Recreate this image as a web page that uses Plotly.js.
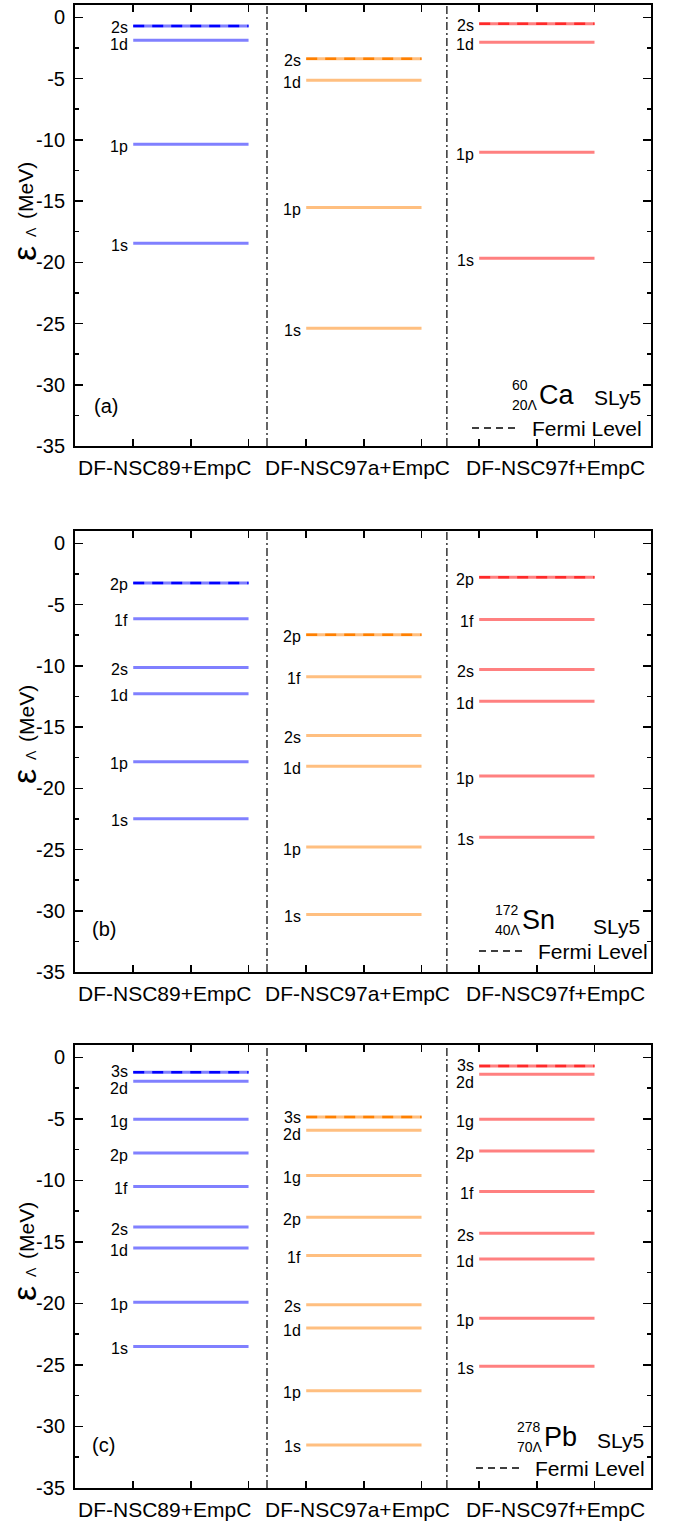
<!DOCTYPE html>
<html><head><meta charset="utf-8">
<script src="https://cdn.plot.ly/plotly-3.0.1.min.js"></script>
<style>body{margin:0;background:#fff}</style>
</head><body>
<div id="chart" style="width:674px;height:1525px"></div>
<script>
// ---------------- data ----------------
const categories = ['DF-NSC89+EmpC', 'DF-NSC97a+EmpC', 'DF-NSC97f+EmpC'];

// (a) 60/20Λ Ca
const caLevels  = ['2s', '1d', '1p', '1s'];
const caNSC89   = [-0.71, -1.88, -10.37, -18.45];
const caNSC97a  = [-3.38, -5.14, -15.54, -25.39];
const caNSC97f  = [-0.54, -2.04, -11.02, -19.68];

// (b) 172/40Λ Sn
const snLevels  = ['2p', '1f', '2s', '1d', '1p', '1s'];
const snNSC89   = [-3.24, -6.17, -10.14, -12.29, -17.84, -22.49];
const snNSC97a  = [-7.47, -10.9, -15.7, -18.2, -24.8, -30.3];
const snNSC97f  = [-2.77, -6.22, -10.3, -12.9, -19.0, -24.0];

// (c) 278/70Λ Pb
const pbLevels  = ['3s', '2d', '1g', '2p', '1f', '2s', '1d', '1p', '1s'];
const pbNSC89   = [-1.22, -1.95, -5.03, -7.78, -10.5, -13.8, -15.5, -19.9, -23.5];
const pbNSC97a  = [-4.86, -5.92, -9.6, -13.0, -16.1, -20.1, -22.0, -27.1, -31.5];
const pbNSC97f  = [-0.70, -1.38, -5.03, -7.62, -10.9, -14.3, -16.4, -21.2, -25.1];

const yTicks = [0, -5, -10, -15, -20, -25, -30, -35];
const yMinorTicks = [-2.5, -7.5, -12.5, -17.5, -22.5, -27.5, -32.5];

const panels = [
  {levels: caLevels, series: [caNSC89, caNSC97a, caNSC97f], tag: '(a)', A: '60',  ZL: '20Λ', el: 'Ca'},
  {levels: snLevels, series: [snNSC89, snNSC97a, snNSC97f], tag: '(b)', A: '172', ZL: '40Λ', el: 'Sn'},
  {levels: pbLevels, series: [pbNSC89, pbNSC97a, pbNSC97f], tag: '(c)', A: '278', ZL: '70Λ', el: 'Pb'}
];

// ---------------- styling ----------------
const W = 674, H = 1525;
const px = v => v / W;
const py = v => 1 - v / H;
const colors = [
  {solid: '#8080ff', dash: '#0000ff'},
  {solid: '#ffbf80', dash: '#ff8000'},
  {solid: '#ff8080', dash: '#ff2a2a'}
];
const frames = [[5, 446], [531, 972], [1045, 1488]];
const HALF = 1 / 3;
const PXU = 12.3;
const FONT = 'Liberation Sans, Arial, sans-serif';

const deco = [
  {tagXY: [106, 406], titleY: 217, A: [510, 385], ZL: [510, 405], el: [537, 395], sly: [617, 397], fermiY: 428, dash: [472, 517], fermiX: 530},
  {tagXY: [104, 929], titleY: 740, A: [493, 910], ZL: [493, 930], el: [520, 920], sly: [616, 927], fermiY: 951, dash: [479, 525], fermiX: 536},
  {tagXY: [103, 1445], titleY: 1257, A: [515, 1427], ZL: [515, 1447], el: [542, 1437], sly: [620, 1440], fermiY: 1468, dash: [476, 520], fermiX: 533}
];
const labelCenters = [0.845, 1.965, 3.11];

const traces = [], annotations = [], shapes = [];
const layout = {
  width: W, height: H,
  margin: {l: 0, r: 0, t: 0, b: 0},
  paper_bgcolor: '#fff', plot_bgcolor: '#fff',
  font: {family: FONT, color: '#000', size: 20},
  showlegend: false,
  hovermode: false
};

function paperText(x, y, text, size, xanchor) {
  return {xref: 'paper', yref: 'paper', x: px(x), y: py(y), xanchor: xanchor || 'center', yanchor: 'middle',
          text: text, showarrow: false, font: {size: size}};
}

panels.forEach((p, i) => {
  const xa = i === 0 ? 'x' : 'x' + (i + 1);
  const ya = i === 0 ? 'y' : 'y' + (i + 1);
  const xk = i === 0 ? 'xaxis' : 'xaxis' + (i + 1);
  const yk = i === 0 ? 'yaxis' : 'yaxis' + (i + 1);
  const [top, bot] = frames[i];

  layout[xk] = {
    domain: [px(75), px(651)], range: [0.33, 3.66], anchor: ya,
    tickvals: [2/3, 1, 4/3, 5/3, 2, 7/3, 8/3, 3, 10/3],
    showticklabels: false,
    ticks: 'inside', ticklen: 7, tickwidth: 1.5, tickcolor: '#000',
    showline: true, linewidth: 2, linecolor: '#000', mirror: 'ticks',
    showgrid: false, zeroline: false, fixedrange: true
  };
  layout[yk] = {
    domain: [py(bot), py(top)], range: [-35, 1], anchor: xa,
    tickvals: yTicks, ticktext: yTicks.map(String),
    ticks: 'inside', ticklen: 8, tickwidth: 1.5, tickcolor: '#000',
    minor: {tickvals: yMinorTicks, ticks: 'inside', ticklen: 4, tickwidth: 1.5, tickcolor: '#000'},
    showline: true, linewidth: 2, linecolor: '#000', mirror: 'ticks',
    showgrid: false, zeroline: false, fixedrange: true,
    tickfont: {size: 20}, ticklabelstandoff: 4
  };

  [1.44, 2.48].forEach(xs => shapes.push({
    type: 'line', xref: xa, yref: ya + ' domain', x0: xs, x1: xs, y0: 0, y1: 1,
    line: {color: '#000', width: 1.2, dash: '8px,3px,2px,3px'}
  }));

  categories.forEach((c, j) => annotations.push({
    xref: xa, yref: ya + ' domain', x: labelCenters[j], y: 0, xanchor: 'center', yanchor: 'top', yshift: -8,
    text: c, showarrow: false, font: {size: 21}
  }));

  p.series.forEach((vals, j) => {
    const c = j + 1;
    vals.forEach(v => traces.push({
      type: 'scatter', mode: 'lines', x: [c - HALF, c + HALF], y: [v, v],
      xaxis: xa, yaxis: ya, line: {color: colors[j].solid, width: 3}, hoverinfo: 'skip'
    }));
    const fermi = Math.max(...vals);
    traces.push({
      type: 'scatter', mode: 'lines', x: [c - HALF, c + HALF], y: [fermi, fermi],
      xaxis: xa, yaxis: ya, line: {color: colors[j].dash, width: 2.5, dash: '11px,8px'}, hoverinfo: 'skip'
    });
    const base = vals.map(v => -v * PXU);
    const pos = base.map(b => b + 2);
    for (let k = 1; k < pos.length; k++) {
      const gap = pos[k] - pos[k - 1];
      if (gap < 17) { const d = 17 - gap; pos[k - 1] -= 0.3 * d; pos[k] += 0.7 * d; }
    }
    vals.forEach((v, k) => annotations.push({
      xref: xa, yref: ya, x: c - HALF, y: v, xanchor: 'right', yanchor: 'middle',
      xshift: -3, yshift: -(pos[k] - base[k]),
      text: p.levels[k], showarrow: false, font: {size: 16}
    }));
  });

  const d = deco[i];
  annotations.push(
    paperText(d.tagXY[0], d.tagXY[1], p.tag, 20),
    Object.assign(paperText(24, d.titleY + 37, 'ε', 34), {textangle: -90}),
    Object.assign(paperText(31, d.titleY + 15, 'Λ', 14), {textangle: -90}),
    Object.assign(paperText(26, d.titleY - 26, '(MeV)', 21), {textangle: -90}),
    paperText(d.A[0], d.A[1], p.A, 14, 'left'),
    paperText(d.ZL[0], d.ZL[1], p.ZL, 14, 'left'),
    paperText(d.el[0], d.el[1], p.el, 27, 'left'),
    paperText(d.sly[0], d.sly[1], 'SLy5', 21),
    paperText(d.fermiX, d.fermiY, 'Fermi Level', 21, 'left')
  );
  shapes.push({
    type: 'line', xref: 'paper', yref: 'paper', x0: px(d.dash[0]), x1: px(d.dash[1]),
    y0: py(d.fermiY), y1: py(d.fermiY), line: {color: '#000', width: 1.5, dash: '7px,5px'}
  });
});

layout.annotations = annotations;
layout.shapes = shapes;

Plotly.newPlot('chart', traces, layout, {staticPlot: true, displayModeBar: false});
</script>
</body></html>
